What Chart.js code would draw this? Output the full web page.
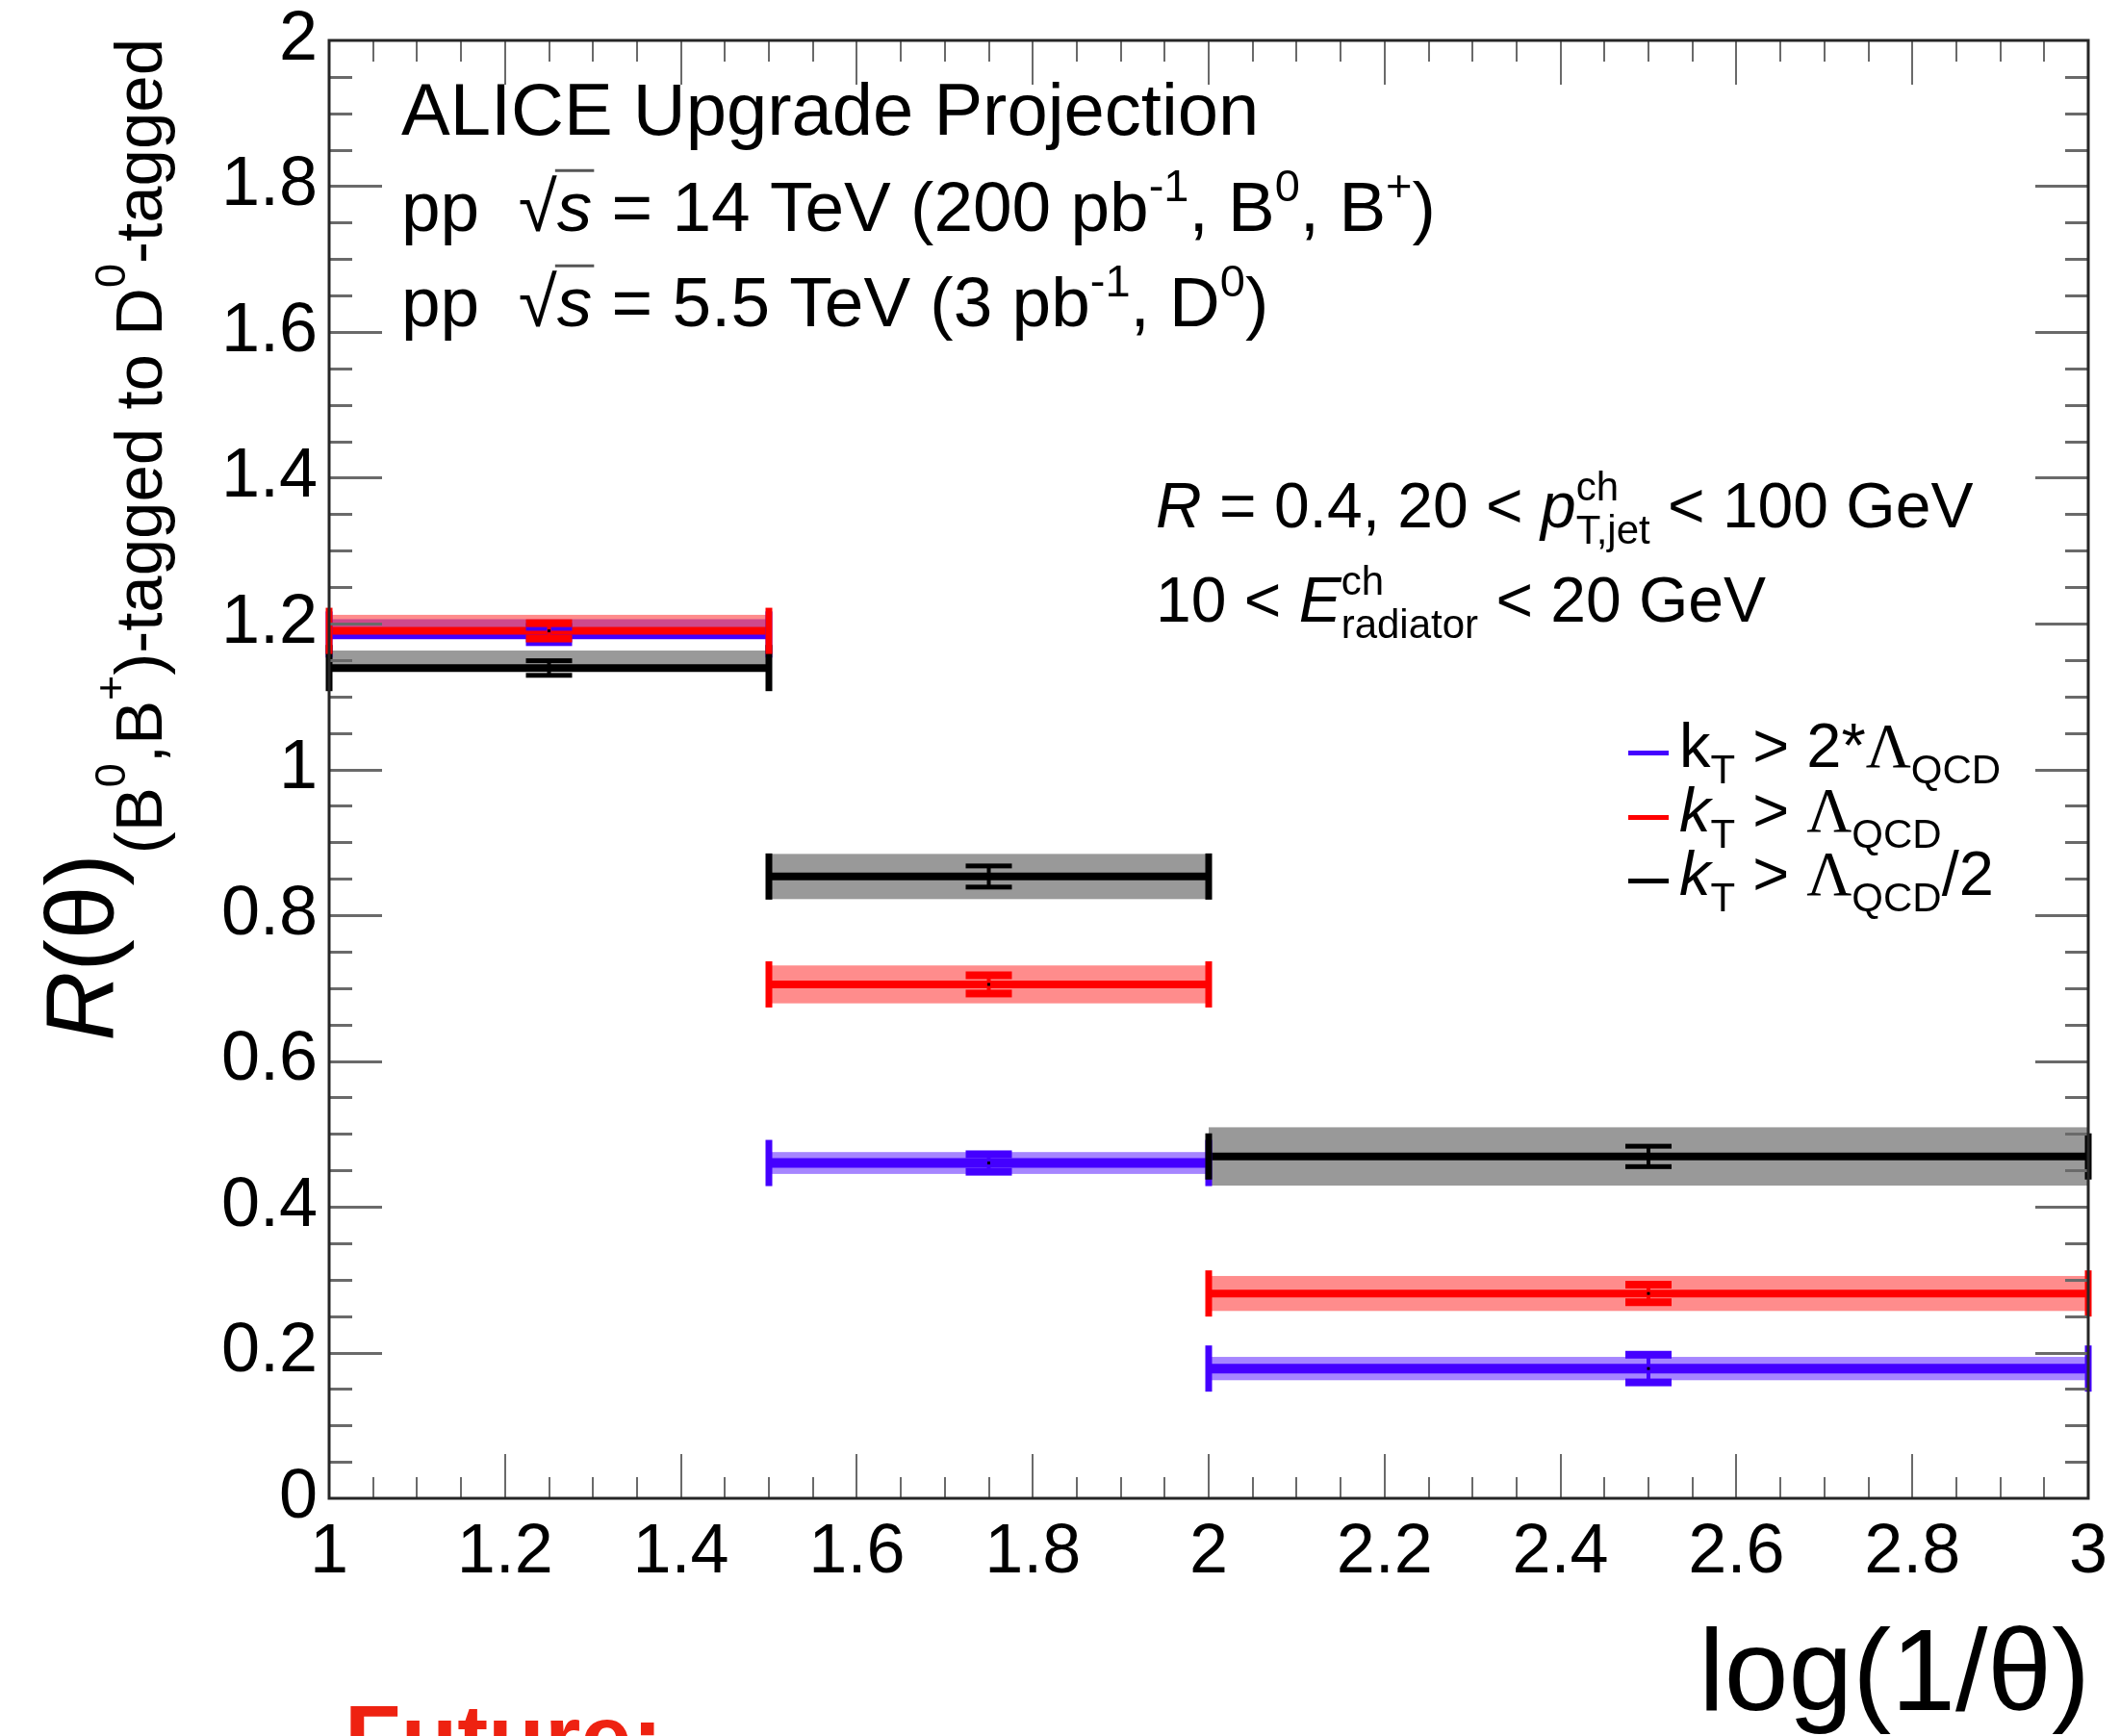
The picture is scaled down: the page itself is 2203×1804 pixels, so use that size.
<!DOCTYPE html>
<html>
<head>
<meta charset="utf-8">
<script src="https://cdn.jsdelivr.net/npm/chart.js@4.4.1/dist/chart.umd.min.js"></script>
<style>
  html, body { margin: 0; padding: 0; background: #fff; overflow: hidden; }
  #chart { display: block; }
</style>
</head>
<body>
<canvas id="chart" width="2203" height="1804"></canvas>
<script>
'use strict';

// log(1/theta) bins
const binLo = [1.0, 1.5, 2.0];
const binHi = [1.5, 2.0, 3.0];
const binMid = [1.25, 1.75, 2.5];

// kT > 2*Lambda_QCD
const blueVal   = [1.185, 0.460, 0.178];
const blueStat  = [0.0105, 0.012, 0.019];
const blueSysUp = [0.021, 0.015, 0.016];
const blueSysDn = [0.000, 0.015, 0.016];

// kT > Lambda_QCD
const redVal   = [1.190, 0.705, 0.281];
const redStat  = [0.0105, 0.0125, 0.012];
const redSysUp = [0.022, 0.026, 0.024];
const redSysDn = [0.000, 0.026, 0.024];

// kT > Lambda_QCD/2
const blackVal   = [1.139, 0.853, 0.469];
const blackStat  = [0.010, 0.0145, 0.014];
const blackSysUp = [0.024, 0.031, 0.040];
const blackSysDn = [0.000, 0.031, 0.040];

const yTicks = [0, 0.2, 0.4, 0.6, 0.8, 1, 1.2, 1.4, 1.6, 1.8, 2];
const xTicks = [1, 1.2, 1.4, 1.6, 1.8, 2, 2.2, 2.4, 2.6, 2.8, 3];

const SANS = '"Liberation Sans", Arial, Helvetica, sans-serif';
const SERIF = '"Liberation Serif", "Times New Roman", serif';

const COLORS = {
    blue: '#4400ff',
    blueBand: 'rgba(68, 0, 255, 0.48)',
    red: '#ff0000',
    redBand: 'rgba(255, 0, 0, 0.45)',
    black: '#000000',
    blackBand: 'rgba(0, 0, 0, 0.40)',
    axis: '#262626',
    tick: '#6a6a6a',
};

// drawn bottom to top; cap = thickness of the stat-error end caps
const series = [
    { val: blueVal,  stat: blueStat,  up: blueSysUp,  dn: blueSysDn,  color: COLORS.blue,  band: COLORS.blueBand,  cap: 8 },
    { val: blackVal, stat: blackStat, up: blackSysUp, dn: blackSysDn, color: COLORS.black, band: COLORS.blackBand, cap: 5 },
    { val: redVal,   stat: redStat,   up: redSysUp,   dn: redSysDn,   color: COLORS.red,   band: COLORS.redBand,   cap: 8 },
];

// step segments per bin, separated by gaps
function stepData(vals) {
    const pts = [];
    vals.forEach((v, i) => {
        pts.push({ x: binLo[i], y: v }, { x: binHi[i], y: v }, { x: binHi[i], y: null });
    });
    return pts;
}

// ---------- rich text (sub/superscripts, italics) ----------
function fontOf(p, size) {
    const px = Math.round(size * (p.s || 1));
    return (p.it ? 'italic ' : '') + (p.b ? 'bold ' : '') + px + 'px ' + (p.ser ? SERIF : SANS);
}
const SUB = { s: 0.64, dy: 0.26 };
const SUP = { s: 0.64, dy: -0.42 };

function layoutRich(ctx, parts, size) {
    let cx = 0, held = null;
    const out = [];
    for (const p of parts) {
        const font = fontOf(p, size);
        ctx.font = font;
        const w = ctx.measureText(p.t).width;
        out.push({ p, x: cx, w, font });
        if (p.stack) { held = w; continue; }
        cx += held !== null ? Math.max(held, w) : w;
        held = null;
    }
    return { out, width: cx };
}

function drawRich(ctx, x, y, parts, size, align, color) {
    const L = layoutRich(ctx, parts, size);
    const x0 = align === 'right' ? x - L.width : x;
    ctx.fillStyle = color || '#000';
    ctx.textAlign = 'left';
    ctx.textBaseline = 'alphabetic';
    for (const o of L.out) {
        ctx.font = o.font;
        const yy = y + (o.p.dy || 0) * size;
        ctx.fillText(o.p.t, x0 + o.x, yy);
        if (o.p.bar) {
            ctx.save();
            ctx.strokeStyle = '#555';
            ctx.lineWidth = 3;
            ctx.beginPath();
            ctx.moveTo(x0 + o.x - 2, yy - 0.86 * size);
            ctx.lineTo(x0 + o.x + o.w + 2, yy - 0.86 * size);
            ctx.stroke();
            ctx.restore();
        }
    }
    return L.width;
}

const sub = (t, extra) => Object.assign({ t }, SUB, extra || {});
const sup = (t, extra) => Object.assign({ t }, SUP, extra || {});

const headerLines = [
    { y: 140, size: 76, parts: [{ t: 'ALICE Upgrade Projection' }] },
    { y: 240, size: 73, parts: [
        { t: 'pp  ' }, { t: '\u221A' }, { t: 's', it: true, bar: true }, { t: ' = 14 TeV (200 pb' },
        sup('-1'), { t: ', B' }, sup('0'), { t: ', B' }, sup('+'), { t: ')' } ] },
    { y: 339, size: 73, parts: [
        { t: 'pp  ' }, { t: '\u221A' }, { t: 's', it: true, bar: true }, { t: ' = 5.5 TeV (3 pb' },
        sup('-1'), { t: ', D' }, sup('0'), { t: ')' } ] },
];

const cutLines = [
    { y: 548, size: 66, parts: [
        { t: 'R', it: true }, { t: ' = 0.4, 20 < ' }, { t: 'p', it: true },
        sup('ch', { stack: true }), sub('T,jet'), { t: ' < 100 GeV' } ] },
    { y: 646, size: 66, parts: [
        { t: '10 < ' }, { t: 'E', it: true },
        sup('ch', { stack: true }), sub('radiator'), { t: ' < 20 GeV' } ] },
];

const legendRows = [
    { y: 797, color: COLORS.blue, parts: [
        { t: 'k' }, sub('T'), { t: ' > 2*' }, { t: '\u039B', ser: true }, sub('QCD') ] },
    { y: 864, color: COLORS.red, parts: [
        { t: 'k', it: true }, sub('T'), { t: ' > ' }, { t: '\u039B', ser: true }, sub('QCD') ] },
    { y: 930, color: COLORS.black, parts: [
        { t: 'k', it: true }, sub('T'), { t: ' > ' }, { t: '\u039B', ser: true }, sub('QCD'), { t: '/2' } ] },
];

const yTitleParts = [
    { t: 'R', it: true }, { t: '(\u03B8)' },
    { t: '(B', s: 0.69, dy: 0.5 }, { t: '0', s: 0.45, dy: 0.12 }, { t: ',B', s: 0.69, dy: 0.5 },
    { t: '+', s: 0.45, dy: 0.12 }, { t: ')-tagged to D', s: 0.69, dy: 0.5 },
    { t: '0', s: 0.45, dy: 0.12 }, { t: '-tagged', s: 0.69, dy: 0.5 },
];

// ---------- plugin: bands, error bars, frame, labels ----------
const rootStyle = {
    id: 'rootStyle',
    beforeDatasetsDraw(chart) {
        const { ctx, scales: { x, y } } = chart;
        ctx.save();
        for (const s of series) {
            ctx.fillStyle = s.band;
            s.val.forEach((v, i) => {
                const x0 = x.getPixelForValue(binLo[i]);
                const x1 = x.getPixelForValue(binHi[i]);
                const yt = y.getPixelForValue(v + s.up[i]);
                const yb = y.getPixelForValue(v - s.dn[i]);
                ctx.fillRect(x0, yt, x1 - x0, yb - yt);
            });
        }
        ctx.restore();
    },
    afterDatasetsDraw(chart) {
        const { ctx, scales: { x, y } } = chart;
        ctx.save();
        for (const s of series) {
            s.val.forEach((v, i) => {
                ctx.fillStyle = s.color;
                const py = y.getPixelForValue(v);
                // end caps of the bin-width bar
                for (const xe of [binLo[i], binHi[i]]) {
                    const px = x.getPixelForValue(xe);
                    ctx.fillRect(px - 3.5, py - 24, 7, 48);
                }
                // statistical error
                const pm = x.getPixelForValue(binMid[i]);
                const ys = y.getPixelForValue(v + s.stat[i]);
                const ye = y.getPixelForValue(v - s.stat[i]);
                const h = s.cap / 2;
                ctx.fillRect(pm - 2, ys, 4, ye - ys);
                ctx.fillRect(pm - 24, ys - h, 48, s.cap);
                ctx.fillRect(pm - 24, ye - h, 48, s.cap);
                ctx.fillStyle = '#000';
                ctx.fillRect(pm - 1.5, py - 1.5, 3, 3);
            });
        }
        ctx.restore();
    },
    afterDraw(chart) {
        const { ctx, chartArea: a, scales: { x, y } } = chart;
        ctx.save();

        // ticks on all four sides, pointing inward
        ctx.strokeStyle = COLORS.tick;
        ctx.lineWidth = 3;
        ctx.beginPath();
        for (let i = 1; i < 40; i++) {
            const py = Math.round(y.getPixelForValue(i * 0.05)) + 0.5;
            const len = i % 4 === 0 ? 55 : 24;
            ctx.moveTo(a.left, py); ctx.lineTo(a.left + len, py);
            ctx.moveTo(a.right, py); ctx.lineTo(a.right - len, py);
        }
        ctx.stroke();
        ctx.lineWidth = 2;
        ctx.beginPath();
        for (let i = 1; i < 40; i++) {
            const px = Math.round(x.getPixelForValue(1 + i * 0.05));
            const len = i % 4 === 0 ? 46 : 22;
            ctx.moveTo(px, a.bottom); ctx.lineTo(px, a.bottom - len);
            ctx.moveTo(px, a.top); ctx.lineTo(px, a.top + len);
        }
        ctx.stroke();

        // frame
        ctx.strokeStyle = COLORS.axis;
        ctx.lineWidth = 3;
        ctx.strokeRect(a.left, a.top, a.right - a.left, a.bottom - a.top);

        // header and selection text
        for (const l of headerLines) drawRich(ctx, 417, l.y, l.parts, l.size, 'left');
        for (const l of cutLines) drawRich(ctx, 1201, l.y, l.parts, l.size, 'left');

        // legend
        for (const r of legendRows) {
            ctx.fillStyle = r.color;
            ctx.fillRect(1692, r.y - 17, 42, 5);
            drawRich(ctx, 1745, r.y, r.parts, 65, 'left');
        }

        // axis titles
        ctx.font = '120px ' + SANS;
        ctx.fillStyle = '#000';
        ctx.textAlign = 'right';
        ctx.textBaseline = 'alphabetic';
        ctx.fillText('log(1/\u03B8)', a.right + 2, 1777);

        ctx.save();
        ctx.translate(118, a.top - 2);
        ctx.rotate(-Math.PI / 2);
        drawRich(ctx, 0, 0, yTitleParts, 100, 'right');
        ctx.restore();

        ctx.font = 'bold 96px ' + SANS;
        ctx.fillStyle = '#ee2211';
        ctx.textAlign = 'left';
        ctx.fillText('Future:', 358, 1839);

        ctx.restore();
    }
};

const tickFont = { family: SANS, size: 72 };

new Chart(document.getElementById('chart').getContext('2d'), {
    type: 'line',
    data: {
        datasets: [
            { label: 'kT > LQCD',   data: stepData(redVal),   borderColor: COLORS.red,   borderWidth: 8,  pointRadius: 0, spanGaps: false, borderCapStyle: 'butt' },
            { label: 'kT > LQCD/2', data: stepData(blackVal), borderColor: COLORS.black, borderWidth: 8,  pointRadius: 0, spanGaps: false, borderCapStyle: 'butt' },
            { label: 'kT > 2*LQCD', data: stepData(blueVal),  borderColor: COLORS.blue,  borderWidth: 10, pointRadius: 0, spanGaps: false, borderCapStyle: 'butt' },
        ]
    },
    options: {
        responsive: false,
        animation: false,
        events: [],
        layout: { padding: { top: 42, right: 33, left: 0, bottom: 0 } },
        plugins: { legend: { display: false }, tooltip: { enabled: false } },
        scales: {
            x: {
                type: 'linear', min: 1, max: 3,
                afterBuildTicks: s => { s.ticks = xTicks.map(v => ({ value: v })); },
                ticks: { font: tickFont, color: '#000', padding: 14, maxRotation: 0, autoSkip: false,
                         callback: v => String(+v.toFixed(1)) },
                grid: { display: false, drawTicks: false },
                border: { display: false },
                afterFit: s => { s.height = 247; s.paddingLeft = 0; s.paddingRight = 0; }
            },
            y: {
                type: 'linear', min: 0, max: 2,
                afterBuildTicks: s => { s.ticks = yTicks.map(v => ({ value: v })); },
                ticks: { font: tickFont, color: '#000', padding: 12, autoSkip: false,
                         callback: v => String(+v.toFixed(1)) },
                grid: { display: false, drawTicks: false },
                border: { display: false },
                afterFit: s => { s.width = 342; s.paddingTop = 0; s.paddingBottom = 0; }
            }
        }
    },
    plugins: [rootStyle]
});
</script>
</body>
</html>
